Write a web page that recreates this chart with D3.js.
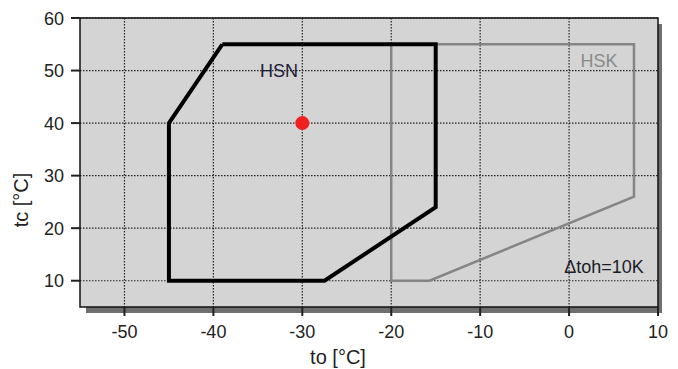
<!DOCTYPE html>
<html>
<head>
<meta charset="utf-8">
<script src="https://cdn.jsdelivr.net/npm/d3@7"></script>
<style>
  body { margin: 0; background: #fff; }
  text { font-family: "Liberation Sans", Arial, sans-serif; }
</style>
</head>
<body>
<div id="chart"></div>
<script>
// data
const xTicks = [-50, -40, -30, -20, -10, 0, 10];
const yTicks = [10, 20, 30, 40, 50, 60];
const hsnTo = [-39, -15, -15, -27.5, -45, -45, -39];
const hsnTc = [55, 55, 24, 10, 10, 40, 55];
const hskTo = [-20, 7.3, 7.3, -15.7, -20, -20];
const hskTc = [55, 55, 26, 10, 10, 55];
const pointTo = [-30];
const pointTc = [40];

const W = 678, H = 369;
const pL = 80, pT = 18, pR = 658, pB = 307;

const x = d3.scaleLinear().domain([-55, 10]).range([pL, pR]);
const y = d3.scaleLinear().domain([5, 60]).range([pB, pT]);

const svg = d3.select("#chart").append("svg")
  .attr("width", W).attr("height", H);

// schaduw onder en rechts
svg.append("rect")
  .attr("x", pL + 6).attr("y", pB)
  .attr("width", pR - pL - 2).attr("height", 6)
  .attr("fill", "#6f6f6f");
svg.append("rect")
  .attr("x", pR).attr("y", pT + 6)
  .attr("width", 4).attr("height", pB - pT)
  .attr("fill", "#6f6f6f");

// plot achtergrond
svg.append("rect")
  .attr("x", pL).attr("y", pT)
  .attr("width", pR - pL).attr("height", pB - pT)
  .attr("fill", "#d3d4d3");

// grid
const grid = svg.append("g")
  .attr("stroke", "#222").attr("stroke-width", 1.2)
  .attr("stroke-dasharray", "1.5,1.5");
grid.selectAll(".gx").data(xTicks.filter(d => d < 10)).enter().append("line")
  .attr("x1", d => x(d)).attr("x2", d => x(d))
  .attr("y1", pT).attr("y2", pB);
grid.selectAll(".gy").data(yTicks).enter().append("line")
  .attr("y1", d => y(d)).attr("y2", d => y(d))
  .attr("x1", pL).attr("x2", pR);

// rand
svg.append("rect")
  .attr("x", pL).attr("y", pT)
  .attr("width", pR - pL).attr("height", pB - pT)
  .attr("fill", "none").attr("stroke", "#111").attr("stroke-width", 1.5);

const line = d3.line().x(d => x(d[0])).y(d => y(d[1]));

// HSK (grijs)
svg.append("path")
  .datum(d3.zip(hskTo, hskTc))
  .attr("d", line)
  .attr("fill", "none").attr("stroke", "#858585")
  .attr("stroke-width", 2.5).attr("stroke-linejoin", "miter");

// HSN (zwart)
svg.append("path")
  .datum(d3.zip(hsnTo, hsnTc))
  .attr("d", line)
  .attr("fill", "none").attr("stroke", "#000")
  .attr("stroke-width", 4).attr("stroke-linejoin", "miter");

// rood punt
svg.selectAll(".pt").data(d3.zip(pointTo, pointTc)).enter().append("circle")
  .attr("cx", d => x(d[0])).attr("cy", d => y(d[1]))
  .attr("r", 7).attr("fill", "#f02020");

// labels in de plot
svg.append("text").attr("x", 279).attr("y", 77)
  .attr("text-anchor", "middle").attr("font-size", 18).attr("fill", "#1c1c38")
  .text("HSN");
svg.append("text").attr("x", 599).attr("y", 67)
  .attr("text-anchor", "middle").attr("font-size", 18).attr("fill", "#8a8a8a")
  .text("HSK");
svg.append("text").attr("x", 604).attr("y", 273)
  .attr("text-anchor", "middle").attr("font-size", 18).attr("fill", "#1c1c28")
  .text("\u0394toh=10K");

// x-as ticks
svg.selectAll(".tx").data(xTicks).enter().append("line")
  .attr("x1", d => x(d)).attr("x2", d => x(d))
  .attr("y1", pB).attr("y2", pB + 9)
  .attr("stroke", "#222").attr("stroke-width", 2);
svg.selectAll(".lx").data(xTicks).enter().append("text")
  .attr("x", d => x(d)).attr("y", 338)
  .attr("text-anchor", "middle").attr("font-size", 18).attr("fill", "#222")
  .text(d => d);

// y-as ticks
svg.selectAll(".ty").data(yTicks).enter().append("line")
  .attr("y1", d => y(d)).attr("y2", d => y(d))
  .attr("x1", pL - 9).attr("x2", pL)
  .attr("stroke", "#222").attr("stroke-width", 2);
svg.selectAll(".ly").data(yTicks).enter().append("text")
  .attr("x", 64).attr("y", d => y(d) + 6.5)
  .attr("text-anchor", "end").attr("font-size", 18).attr("fill", "#222")
  .text(d => d);

// as titels
svg.append("text").attr("x", 338).attr("y", 364)
  .attr("text-anchor", "middle").attr("font-size", 20).attr("fill", "#222")
  .text("to [\u00b0C]");
svg.append("text")
  .attr("transform", "translate(28,200) rotate(-90)")
  .attr("text-anchor", "middle").attr("font-size", 20).attr("fill", "#222")
  .text("tc [\u00b0C]");
</script>
</body>
</html>
